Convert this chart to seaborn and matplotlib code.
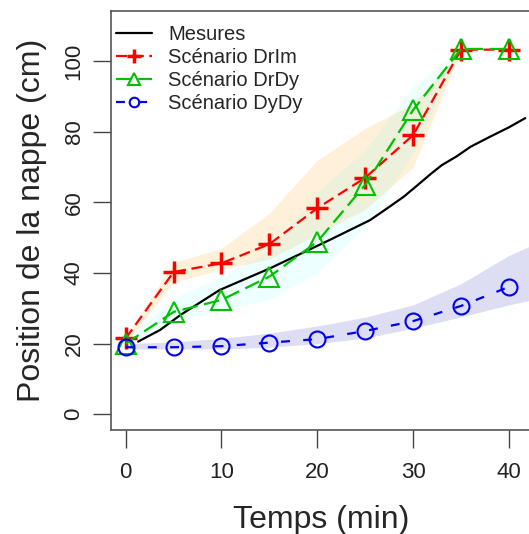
import numpy as np
import pandas as pd
import seaborn as sns
import matplotlib.pyplot as plt

# Données
temps = [0, 5, 10, 15, 20, 25, 30, 35, 40]

t_mesures = [1.3, 3.6, 5.7, 9.8, 15.1, 21.3, 25.5, 27, 29, 30.5, 31.8, 33, 34.5, 36, 38, 40, 41.7]
mesures = [20.6, 23.9, 28.1, 35.2, 41.4, 49.4, 55.0, 57.8, 61.6, 65.0, 68.0, 70.6, 73.0,
           75.8, 78.6, 81.3, 83.9]

drim = [21.5, 40.3, 42.8, 48.2, 58.4, 67.0, 79.1, 103.3, 103.3]
drdy = [20.0, 29.0, 32.4, 39.0, 48.9, 65.0, 86.2, 103.5, 103.5]
dydy = [19.0, 19.0, 19.3, 20.3, 21.3, 23.6, 26.4, 30.7, 36.1]

# Enveloppes (incertitude)
t_env = [0, 5, 10, 15, 20, 25, 30, 35]
drim_bas = [20.0, 37.5, 41.0, 44.0, 51.0, 58.0, 70.0, 103.0]
drim_haut = [22.0, 43.0, 47.0, 57.0, 72.0, 81.0, 88.0, 103.0]
drdy_bas = [19.5, 26.5, 29.5, 32.5, 40.0, 53.0, 74.0, 103.0]
drdy_haut = [21.0, 33.0, 39.0, 46.5, 63.0, 75.0, 93.0, 103.5]

t_env_dy = [0, 5, 10, 15, 20, 25, 30, 35, 40, 42.5]
dydy_bas = [18.5, 18.5, 18.5, 19.0, 20.0, 21.6, 24.4, 27.6, 31.0, 32.5]
dydy_haut = [20.0, 20.5, 21.5, 23.0, 25.0, 27.5, 31.0, 37.0, 45.0, 48.0]

sns.set_style("white")
plt.rcParams['font.family'] = ['Liberation Sans', 'DejaVu Sans']

fig = plt.figure(figsize=(5.29, 5.34), dpi=100)
ax = fig.add_axes([111 / 529, 104 / 534, 420 / 529, 419 / 534])

# bandes
ax.fill_between(t_env, drim_bas, drim_haut, color='orange', alpha=0.15, lw=0)
ax.fill_between(t_env, drdy_bas, drdy_haut, color='cyan', alpha=0.07, lw=0)
ax.fill_between(t_env_dy, dydy_bas, dydy_haut, color='#3030C0', alpha=0.16, lw=0)

sns.lineplot(x=t_mesures, y=mesures, ax=ax, color='black', lw=1.6,
             label='Mesures')
sns.lineplot(x=temps, y=drim, ax=ax, color='red', lw=1.6, linestyle=(0, (5, 2.5)),
             marker='+', markersize=16, markeredgewidth=2.5,
             markeredgecolor='red', label='Scénario DrIm')
sns.lineplot(x=temps, y=drdy, ax=ax, color='#00C000', lw=1.6, linestyle=(0, (7, 3)),
             marker='^', markersize=14, markeredgewidth=1.5,
             markeredgecolor='#00C000', markerfacecolor='none',
             label='Scénario DrDy')
sns.lineplot(x=temps, y=dydy, ax=ax, color='#0000EE', lw=1.6, linestyle=(0, (4, 6)),
             marker='o', markersize=11.5, markeredgewidth=1.5,
             markeredgecolor='#0000EE', markerfacecolor='none',
             label='Scénario DyDy')

ax.set_xlim(-1.53, 42.3)
ax.set_ylim(-4.45, 114.25)
ax.set_xticks([0, 10, 20, 30, 40])
ax.set_yticks([0, 20, 40, 60, 80, 100])

for s in ax.spines.values():
    s.set_color('#555555')
    s.set_linewidth(1.2)

ax.tick_params(axis='both', direction='out', length=13, width=1, color='#444444',
               labelsize=16, colors='#222222', bottom=True, left=True)
ax.tick_params(axis='x', pad=10)
ax.tick_params(axis='y', pad=6, labelrotation=90)
for lab in ax.get_yticklabels():
    lab.set_va('center')

ax.set_xlabel('Temps (min)', fontsize=23, labelpad=16)
ax.set_ylabel('Position de la nappe (cm)', fontsize=23, labelpad=12)

ax.legend(loc='upper left', frameon=False, fontsize=14.5, handlelength=1.8,
          handletextpad=0.8, labelspacing=0.2, markerscale=0.6,
          borderaxespad=0, borderpad=0.25, bbox_to_anchor=(0.0, 0.978))

plt.savefig('out.png', dpi=100)
